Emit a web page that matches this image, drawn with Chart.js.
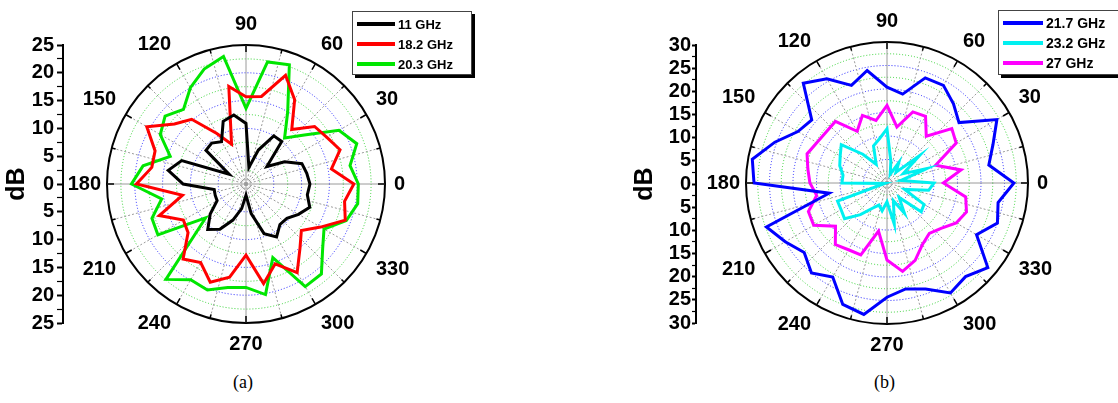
<!DOCTYPE html>
<html>
<head>
<meta charset="utf-8">
<script src="https://cdn.jsdelivr.net/npm/chart.js@4.4.0/dist/chart.umd.min.js"></script>
<style>
  body { margin:0; width:1118px; height:403px; background:#fff; position:relative; overflow:hidden; font-family:"Liberation Sans", Arial, sans-serif; }
  .box { position:absolute; }
  .legend { position:absolute; background:#fff; border:1px solid #444; box-shadow:3px 3px 0 #000; font-weight:bold; color:#000; padding-top:2px; box-sizing:border-box; }
  .legend div { display:flex; align-items:center; height:20px; white-space:nowrap; }
  .legend .ln { display:inline-block; height:4px; margin:0 3px 0 4px; }
  .cap { position:absolute; font-family:"Liberation Serif", "DejaVu Serif", serif; font-size:18px; color:#000; }
</style>
</head>
<body>
<div class="box" style="left:0;top:0;width:66px;height:370px"><canvas id="axA"></canvas></div>
<div class="box" style="left:26px;top:14px;width:440px;height:340px"><canvas id="polA"></canvas></div>
<div class="box" style="left:628px;top:0;width:71px;height:370px"><canvas id="axB"></canvas></div>
<div class="box" style="left:667px;top:11px;width:440px;height:344px"><canvas id="polB"></canvas></div>
<div class="legend" id="legA" style="left:352px;top:11px;width:120px;height:64px;font-size:13px"></div>
<div class="legend" id="legB" style="left:998px;top:10px;width:140px;height:65px;font-size:14px"></div>
<div class="cap" style="left:233px;top:372px">(a)</div>
<div class="cap" style="left:874px;top:372px">(b)</div>
<script>
// sample angles (deg) of the measured patterns
const sampleAngles = [0, 10, 20, 30, 40, 50, 60, 70, 80, 90, 100, 110, 120, 130, 140, 150, 160, 170,
  180, 190, 200, 210, 220, 230, 240, 250, 260, 270, 280, 290, 300, 310, 320, 330, 340, 350];
const labelAngles = [0, 30, 60, 90, 120, 150, 180, 210, 240, 270, 300, 330];

// panel (a)
const namesA = ['11 GHz', '18.2 GHz', '20.3 GHz'];
const colorsA = ['#000000', '#ff0000', '#00e600'];
const ghz11 = [11.5, 11.1, 10.7, 8, 4.9, 10, 10, 6.5, 3, 10.9, 12.6, 12, 8.8, 9.6, 9.4, 3.5, 12.3, 14.2,
  11.3, 5.8, 5.9, 6, 8.4, 10.7, 9.4, 6.9, 4.5, 2, 5.4, 9.5, 11, 9.5, 9.6, 10.9, 12.2, 11.2];
const ghz182 = [19.4, 15.6, 18, 16.8, 16.1, 12.8, 17.5, 20.8, 16, 15.7, 17.8, 7.6, 10.5, 15.2, 16.8, 20.6, 17.4, 17.2,
  19.7, 11.6, 16.6, 13, 13.6, 17.6, 16.3, 18.8, 17, 12.8, 18.2, 15.3, 18.4, 15.1, 13, 15.5, 19, 18];
const ghz203 = [20.2, 19, 21.2, 19.3, 13.7, 10.8, 15, 22.8, 22.3, 13.6, 23.3, 22, 20, 17.5, 19, 17.8, 14.5, 18.8,
  20.6, 15.4, 18, 18.3, 9.5, 22.4, 19.9, 20.3, 18.9, 18.6, 20.2, 14.1, 21.3, 21.1, 18, 16.2, 19.2, 20.4];

// panel (b)
const namesB = ['21.7 GHz', '23.2 GHz', '27 GHz'];
const colorsB = ['#0000ff', '#00f0f0', '#ff00ff'];
const ghz217 = [27, 22, 24, 27, 20, 22, 24, 23.8, 19.2, 20.4, 24.3, 22.1, 25.6, 27.7, 20.9, 21.9, 25.4, 29.1,
  28.3, 12.5, 27.3, 25, 23, 25, 23.1, 27.5, 28.4, 24.3, 22.9, 24, 27, 26, 28, 22, 25, 24];
const ghz232 = [10, 3, 9, 4, 9, 3, 5, 2, 4.7, 11.5, 9.5, 8.4, 4.6, 8, 12.7, 11.5, 10.7, 9.5,
  9.6, 0.5, 11.2, 11.3, 11.8, 8.8, 6.2, 5, 6, 4, 8.9, 4, 7.4, 4, 9.5, 9.1, 4, 9];
const ghz27 = [12, 16, 11, 17, 18, 13, 16.4, 16.1, 12.1, 16.5, 13.5, 15.3, 12.7, 17.1, 16.9, 17.2, 18.1, 17.1,
  16.4, 15.2, 17.8, 18, 14.3, 17.1, 16.4, 16.3, 10.4, 16.4, 19.1, 17.5, 15.1, 14, 15, 17, 18, 17];

const dbTicksA = 25;
const dbTicksB = 30;

// radar order: index 0 at top (90 deg), clockwise = decreasing angle, 5 deg step
const radarAngles = [];
for (let i = 0; i < 72; i++) radarAngles.push(((90 - 5 * i) % 360 + 360) % 360);

function toRadar(series) {
  return radarAngles.map(a => {
    const k = sampleAngles.indexOf(a);
    return k >= 0 ? series[k] : null;
  });
}

const rimTicks = {
  id: 'rimTicks',
  afterDraw(chart) {
    const s = chart.scales.r, ctx = chart.ctx;
    const R = s.getDistanceFromCenterForValue(s.max);
    ctx.save();
    ctx.strokeStyle = '#000';
    ctx.lineWidth = 1.5;
    radarAngles.forEach((a, i) => {
      if (a % 15) return;
      const len = a % 30 ? 4 : 7;
      const p1 = s.getPointPosition(i, R), p2 = s.getPointPosition(i, R - len);
      ctx.beginPath(); ctx.moveTo(p1.x, p1.y); ctx.lineTo(p2.x, p2.y); ctx.stroke();
    });
    ctx.restore();
  }
};

function makePolar(id, names, colors, series, max) {
  new Chart(document.getElementById(id), {
    type: 'radar',
    data: {
      labels: radarAngles,
      datasets: series.map((s, i) => ({
        label: names[i],
        data: toRadar(s),
        borderColor: colors[i],
        borderWidth: 3,
        pointRadius: 0,
        fill: false,
        spanGaps: true,
        tension: 0
      }))
    },
    options: {
      responsive: true,
      maintainAspectRatio: false,
      animation: false,
      plugins: { legend: { display: false }, tooltip: { enabled: false } },
      scales: {
        r: {
          min: 0,
          max: max,
          startAngle: 0,
          ticks: { display: false, stepSize: 2.5 },
          grid: {
            circular: true,
            color: c => c.tick.value === max ? '#000' : (c.tick.value % 5 === 0 ? '#2020ff' : '#30d030'),
            lineWidth: c => c.tick.value === max ? 2 : 1
          },
          border: { dash: c => c.tick && c.tick.value === max ? [] : [1, 2] },
          angleLines: {
            color: '#9a9a9a',
            lineWidth: c => radarAngles[c.index] % 15 === 0 ? 1 : 0,
            borderDash: c => radarAngles[c.index] % 90 === 0 ? [] : [2, 2]
          },
          pointLabels: {
            callback: (v, i) => labelAngles.includes(radarAngles[i]) ? String(radarAngles[i]) : '',
            color: '#000',
            font: { family: '"Liberation Sans", Arial, sans-serif', size: 20, weight: 'bold', lineHeight: 1 },
            padding: c => radarAngles[c.index] === 180 ? 6 : (radarAngles[c.index] === 0 ? 9 : 11)
          }
        }
      }
    },
    plugins: [rimTicks]
  });
}

function makeAxis(id, max, axisWidth, tickLen, tickPad) {
  new Chart(document.getElementById(id), {
    type: 'scatter',
    data: { datasets: [] },
    options: {
      responsive: true,
      maintainAspectRatio: false,
      animation: false,
      layout: { padding: { top: 45, bottom: 47, left: 0, right: 0 } },
      plugins: { legend: { display: false }, tooltip: { enabled: false } },
      scales: {
        x: { display: false },
        y: {
          position: 'left',
          min: -max,
          max: max,
          ticks: {
            stepSize: 2.5,
            autoSkip: false,
            padding: tickPad,
            color: '#000',
            font: { family: '"Liberation Sans", Arial, sans-serif', size: 20, weight: 'bold' },
            callback: v => (v % 5 === 0 ? String(Math.abs(v)) : '')
          },
          grid: {
            drawOnChartArea: false,
            drawTicks: true,
            tickLength: tickLen,
            tickColor: '#000',
            tickWidth: c => (c.tick && c.tick.value % 5 === 0 ? 2 : 1.2)
          },
          border: { display: true, color: '#000', width: 2 },
          title: {
            display: true,
            text: 'dB',
            color: '#000',
            padding: { top: 2, bottom: 2 },
            font: { family: '"Liberation Sans", Arial, sans-serif', size: 25, weight: 'bold' }
          },
          afterFit: s => { s.width = axisWidth; }
        }
      }
    }
  });
}

function makeLegend(id, names, colors, lineW) {
  const el = document.getElementById(id);
  names.forEach((n, i) => {
    const row = document.createElement('div');
    const ln = document.createElement('span');
    ln.className = 'ln';
    ln.style.width = lineW + 'px';
    ln.style.background = colors[i];
    row.appendChild(ln);
    row.appendChild(document.createTextNode(n));
    el.appendChild(row);
  });
}

makeAxis('axA', dbTicksA, 63, 6, 3);
makeAxis('axB', dbTicksB, 68, 4, 1);
makePolar('polA', namesA, colorsA, [ghz11, ghz182, ghz203], dbTicksA);
makePolar('polB', namesB, colorsB, [ghz217, ghz232, ghz27], dbTicksB);
makeLegend('legA', namesA, colorsA, 38);
makeLegend('legB', namesB, colorsB, 40);
</script>
</body>
</html>
